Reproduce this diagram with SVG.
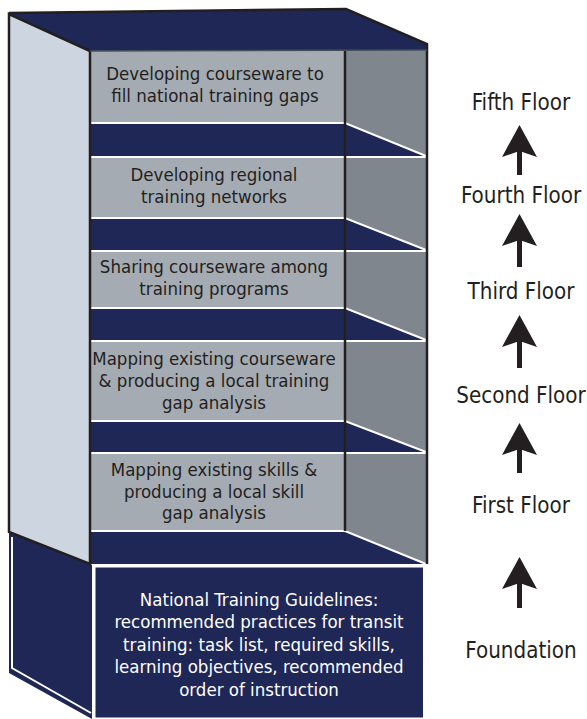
<svg xmlns="http://www.w3.org/2000/svg" width="587" height="719" viewBox="0 0 587 719">
<style>
.navy{fill:#1F2756}
.box{fill:#A5ABB3}
.side{fill:#80868E}
.left{fill:#CDD5E0}
.edge{fill:none;stroke:#231F20;stroke-width:2.5;stroke-linejoin:miter}
.wl{fill:none;stroke:#FFFFFF;stroke-width:2}
.t{font-family:Tahoma,"DejaVu Sans Condensed","Liberation Sans",sans-serif;font-size:18.5px;fill:#231F20;text-anchor:middle}
.tw{fill:#FFFFFF}
.lab{font-family:Tahoma,"DejaVu Sans Condensed","Liberation Sans",sans-serif;font-size:22.2px;fill:#231F20;text-anchor:middle}
.arr{fill:#231F20}
</style>
<rect width="587" height="719" fill="#FFFFFF"/>
<g id="frame">
<rect class="side" x="345" y="44" width="81" height="520"/>
<polygon class="navy" points="9,13 346,9 427,44 427,50 90,51"/>
<polygon class="navy" points="9,532 92,565 92,719 9,673"/>
<polyline class="wl" points="12,537 12,668 91,713"/>
</g>
<g id="floor5">
<rect class="box" x="90" y="51" width="255" height="72"/>
<text class="t" x="215" y="80">Developing courseware to</text>
<text class="t" x="215" y="102">fill national training gaps</text>
</g>
<g id="shelf1"><polygon class="navy" points="90,123 345,123 426,156 90,156"/><polyline class="wl" points="90,123 345,123 426,156"/><line class="wl" x1="90" y1="157" x2="426" y2="157"/></g>
<g id="floor4">
<rect class="box" x="90" y="158" width="255" height="59"/>
<text class="t" x="214" y="181">Developing regional</text>
<text class="t" x="214" y="203">training networks</text>
</g>
<g id="shelf2"><polygon class="navy" points="90,218 345,218 426,250 90,250"/><polyline class="wl" points="90,218 345,218 426,250"/><line class="wl" x1="90" y1="251" x2="426" y2="251"/></g>
<g id="floor3">
<rect class="box" x="90" y="252" width="255" height="55"/>
<text class="t" x="214" y="273">Sharing courseware among</text>
<text class="t" x="214" y="295">training programs</text>
</g>
<g id="shelf3"><polygon class="navy" points="90,308 345,308 426,340 90,340"/><polyline class="wl" points="90,308 345,308 426,340"/><line class="wl" x1="90" y1="341" x2="426" y2="341"/></g>
<g id="floor2">
<rect class="box" x="90" y="342" width="255" height="78"/>
<text class="t" x="214" y="365">Mapping existing courseware</text>
<text class="t" x="214" y="387">&amp; producing a local training</text>
<text class="t" x="214" y="409">gap analysis</text>
</g>
<g id="shelf4"><polygon class="navy" points="90,421 345,421 426,452 90,452"/><polyline class="wl" points="90,421 345,421 426,452"/><line class="wl" x1="90" y1="453" x2="426" y2="453"/></g>
<g id="floor1">
<rect class="box" x="90" y="454" width="255" height="76"/>
<text class="t" x="214" y="476">Mapping existing skills &amp;</text>
<text class="t" x="214" y="498">producing a local skill</text>
<text class="t" x="214" y="519">gap analysis</text>
</g>
<g id="shelf5"><polygon class="navy" points="90,531 345,531 426,564 90,564"/><polyline class="wl" points="90,531 345,531 426,564"/></g>
<g id="left-panel">
<polygon class="left" points="9,14 90,51 90,564 9,532"/>
<polygon class="edge" points="9,14 90,51 90,564 9,532"/>
<polyline class="edge" points="9,13 346,9 427,44 427,564"/>
<line class="edge" x1="345" y1="50" x2="345" y2="531"/>
<line stroke="#4A4F57" stroke-width="1.5" x1="90" y1="51" x2="427" y2="50"/>
</g>
<g id="foundation">
<rect class="navy" x="94.5" y="566.5" width="329.5" height="152" stroke="#FFFFFF" stroke-width="2"/>
<text class="t tw" x="259" y="606">National Training Guidelines:</text>
<text class="t tw" x="259" y="628">recommended practices for transit</text>
<text class="t tw" x="259" y="651">training: task list, required skills,</text>
<text class="t tw" x="259" y="673">learning objectives, recommended</text>
<text class="t tw" x="259" y="696">order of instruction</text>
</g>
<g id="labels">
<text id="lab-fifth" class="lab" x="521" y="110">Fifth Floor</text>
<text id="lab-fourth" class="lab" x="521" y="203">Fourth Floor</text>
<text id="lab-third" class="lab" x="521" y="299">Third Floor</text>
<text id="lab-second" class="lab" x="521" y="403">Second Floor</text>
<text id="lab-first" class="lab" x="521" y="513">First Floor</text>
<text id="lab-foundation" class="lab" x="521" y="658">Foundation</text>
</g>
<g id="connectors">
<path class="arr" d="M519.5,125 L537,157 L519.5,151 L502,157 Z M517,150 h5 v25 h-5 Z"/>
<path class="arr" d="M519.5,214 L537,246 L519.5,240 L502,246 Z M517,239 h5 v28 h-5 Z"/>
<path class="arr" d="M519.5,315 L537,347 L519.5,341 L502,347 Z M517,340 h5 v28 h-5 Z"/>
<path class="arr" d="M519.5,423 L537,455 L519.5,449 L502,455 Z M517,448 h5 v25 h-5 Z"/>
<path class="arr" d="M519.5,557 L537,589 L519.5,583 L502,589 Z M517,582 h5 v26 h-5 Z"/>
</g>
</svg>
